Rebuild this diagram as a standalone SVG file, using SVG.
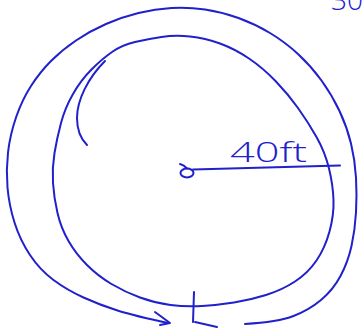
<svg xmlns="http://www.w3.org/2000/svg" width="364" height="334" viewBox="0 0 364 334">
<style>
.s{fill:none;stroke:#2020cc;stroke-width:2;stroke-linecap:round;stroke-linejoin:round}
.t{font-family:"Open Sans","Liberation Sans",sans-serif;font-weight:300;fill:#2020cc;font-size:28px}
</style>
<rect width="364" height="334" fill="#fff"/>
<g id="inner-loop"><path class="s" d="M135,42 Q148,39 161.5,37 Q175,35 190,36.5 Q205,38 220,43.5 Q235,49 249,58.5 Q263,68 275.5,81 Q288,94 298,108 Q308,122 316.5,137 Q325,152 329,168.5 Q333,185 333.5,200 Q334,215 329.5,231.5 Q325,248 316.5,260.5 Q308,273 295,281.5 Q282,290 266,295 Q250,300 234,302.5 Q218,305 202,306 Q186,307 170.5,305 Q155,303 140,297.5 Q125,292 111.5,284 Q98,276 87,265 Q76,254 68.5,241 Q61,228 57.5,213 Q54,198 53,183 Q52,168 54.5,153 Q57,138 61,123 Q65,108 73,94 Q81,80 91.5,69.5 Q102,59 112,52 Q122,45 135,42 Z"/></g>
<g id="outer-loop"><path class="s" d="M168,323 Q135,316 117.5,310.5 Q100,305 83.5,297.5 Q67,290 53.5,280 Q40,270 30,255 Q20,240 14.5,222.5 Q9,205 7.5,187.5 Q6,170 8,152.5 Q10,135 16,117.5 Q22,100 31,86 Q40,72 51,61 Q62,50 76,40.5 Q90,31 106,24 Q122,17 138.5,13 Q155,9 171.5,8 Q188,7 205,9.5 Q222,12 238.5,18 Q255,24 270,33 Q285,42 298,54 Q311,66 321.5,80.5 Q332,95 339.5,111 Q347,127 351,143.5 Q355,160 356,177.5 Q357,195 356,212.5 Q355,230 351.5,246 Q348,262 340.5,276 Q333,290 321,300 Q309,310 293.5,316 Q278,322 245,324"/>
<path class="s" d="M155,312 L170,323 L160,325"/></g>
<g id="inner-arc"><path class="s" d="M105,61 C88,78 77,100 77,118 C77,130 81,139 87,145"/></g>
<g id="mark"><path class="s" d="M194,292 L193,322 M195,322 L217,327"/></g>
<g id="center"><ellipse class="s" cx="187" cy="173" rx="6.5" ry="4.5"/><path class="s" d="M180,164 Q184,165 187,168.5"/></g>
<g id="connectors"><path class="s" d="M193,169.5 L340,165.5"/></g>
<text class="t" x="230" y="162" textLength="77" lengthAdjust="spacingAndGlyphs">40ft</text>
<text class="t" x="331" y="10" font-size="22">30</text>
</svg>
